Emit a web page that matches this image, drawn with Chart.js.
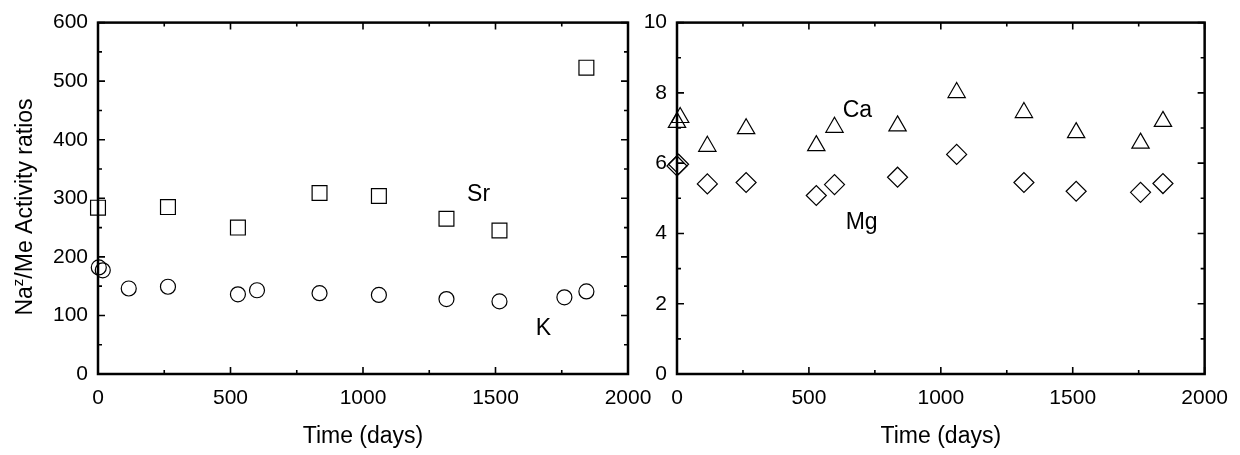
<!DOCTYPE html>
<html>
<head>
<meta charset="utf-8">
<script src="https://cdn.jsdelivr.net/npm/chart.js@4.4.1/dist/chart.umd.min.js"></script>
<style>
  html, body { margin: 0; padding: 0; background: #fff; }
  #wrap { position: relative; width: 1240px; height: 455px; overflow: hidden; }
  #c1 { position: absolute; left: 0; top: 0; }
  #c2 { position: absolute; left: 640px; top: 0; }
</style>
</head>
<body>
<div id="wrap">
  <canvas id="c1" width="680" height="455"></canvas>
  <canvas id="c2" width="600" height="455"></canvas>
</div>
<script>
// Left panel: Na^z/Me ratios for Sr and K
const srDays = [0, 264, 528, 836, 1060, 1315, 1515, 1843];
const srRatio = [284, 285, 250, 309, 304, 265, 245, 523];
const kDays = [3, 18, 116, 264, 528, 600, 836, 1060, 1315, 1515, 1760, 1843];
const kRatio = [182, 177, 146, 149, 136, 143, 138, 135, 128, 124, 131, 141];

// Right panel: Ca and Mg
const caDays = [0, 12, 115, 262, 528, 597, 836, 1060, 1315, 1513, 1757, 1842];
const caRatio = [7.16, 7.30, 6.48, 6.98, 6.50, 7.02, 7.06, 8.01, 7.44, 6.87, 6.57, 7.19];
const mgDays = [0, 6, 115, 262, 528, 597, 836, 1060, 1315, 1513, 1757, 1842];
const mgRatio = [5.92, 5.97, 5.41, 5.45, 5.08, 5.39, 5.60, 6.25, 5.45, 5.20, 5.17, 5.42];

const xTicks = [0, 500, 1000, 1500, 2000];
const leftYTicks = [0, 100, 200, 300, 400, 500, 600];
const rightYTicks = [0, 2, 4, 6, 8, 10];

// series names placed next to the points, in data units
const leftNames = [
  { text: "Sr", x: 1436, y: 307 },
  { text: "K", x: 1681, y: 77 },
];
const rightNames = [
  { text: "Ca", x: 684, y: 7.48 },
  { text: "Mg", x: 700, y: 4.3 },
];

const FONT = '"Liberation Sans", Arial, sans-serif';

function toPoints(xs, ys) {
  return xs.map((x, i) => ({ x: x, y: ys[i] }));
}

function markerSet(label, data, style, radius) {
  return {
    label: label,
    data: data,
    pointStyle: style,
    pointRadius: radius,
    pointHoverRadius: radius,
    borderColor: "#000",
    borderWidth: 1.2,
    backgroundColor: "rgba(0,0,0,0)",
    clip: false,
  };
}

// Box, inward ticks, axis titles and series names
const framePlugin = {
  id: "frame",
  afterDraw(chart, args, opts) {
    const ctx = chart.ctx;
    const a = chart.chartArea;
    const xs = chart.scales.x;
    const ys = chart.scales.y;
    ctx.save();
    ctx.strokeStyle = "#000";

    ctx.lineWidth = 1.6;
    ctx.beginPath();
    for (let v = xs.min; v <= xs.max; v += opts.xMinor) {
      const px = xs.getPixelForValue(v);
      const len = v % opts.xMajor === 0 ? 7 : 4;
      ctx.moveTo(px, a.bottom); ctx.lineTo(px, a.bottom - len);
      ctx.moveTo(px, a.top); ctx.lineTo(px, a.top + len);
    }
    for (let v = ys.min; v <= ys.max; v += opts.yMinor) {
      const py = ys.getPixelForValue(v);
      const len = Math.abs(v % opts.yMajor) < 1e-9 ? 7 : 4;
      ctx.moveTo(a.left, py); ctx.lineTo(a.left + len, py);
      ctx.moveTo(a.right, py); ctx.lineTo(a.right - len, py);
    }
    ctx.stroke();

    ctx.lineWidth = 2.5;
    ctx.strokeRect(a.left, a.top, a.right - a.left, a.bottom - a.top);

    ctx.fillStyle = "#000";
    ctx.textAlign = "center";
    ctx.textBaseline = "middle";
    ctx.font = "23px " + FONT;
    ctx.fillText("Time (days)", (a.left + a.right) / 2, a.bottom + 63);

    opts.names.forEach((n) => {
      ctx.fillText(n.text, xs.getPixelForValue(n.x), ys.getPixelForValue(n.y));
    });

    if (opts.yTitle) {
      const big = "23px " + FONT;
      const small = "15px " + FONT;
      ctx.font = big;
      const w1 = ctx.measureText("Na").width;
      const w3 = ctx.measureText("/Me Activity ratios").width;
      ctx.font = small;
      const w2 = ctx.measureText("z").width;
      const total = w1 + w2 + w3;
      ctx.translate(26, 207);
      ctx.rotate(-Math.PI / 2);
      ctx.textAlign = "left";
      let x0 = -total / 2;
      ctx.font = big;
      ctx.fillText("Na", x0, 0);
      ctx.font = small;
      ctx.fillText("z", x0 + w1, -7);
      ctx.font = big;
      ctx.fillText("/Me Activity ratios", x0 + w1 + w2, 0);
    }
    ctx.restore();
  },
};

function axisOptions(yMin, yMax, yStep, yWidth) {
  return {
    x: {
      type: "linear",
      min: 0,
      max: 2000,
      afterBuildTicks: (s) => { s.ticks = xTicks.map((v) => ({ value: v })); },
      ticks: { color: "#000", font: { family: FONT, size: 21 }, padding: 12, callback: (v) => String(v), maxRotation: 0 },
      grid: { display: false, drawTicks: false },
      border: { display: false },
      afterFit: (s) => { s.height = 81; },
    },
    y: {
      min: yMin,
      max: yMax,
      ticks: { stepSize: yStep, color: "#000", font: { family: FONT, size: 21 }, padding: 10, callback: (v) => String(v) },
      grid: { display: false, drawTicks: false },
      border: { display: false },
      afterFit: (s) => { s.width = yWidth; },
    },
  };
}

function makeChart(id, datasets, scales, padding, frame) {
  return new Chart(document.getElementById(id), {
    type: "scatter",
    data: { datasets: datasets },
    options: {
      responsive: false,
      animation: false,
      layout: { padding: padding },
      plugins: { legend: { display: false }, tooltip: { enabled: false }, frame: frame },
      scales: scales,
    },
    plugins: [framePlugin],
  });
}

const leftScales = axisOptions(0, 600, 100, 98);
leftScales.y.afterBuildTicks = (s) => { s.ticks = leftYTicks.map((v) => ({ value: v })); };
makeChart(
  "c1",
  [
    markerSet("Sr", toPoints(srDays, srRatio), "rect", 10.5),
    markerSet("K", toPoints(kDays, kRatio), "circle", 7.5),
  ],
  leftScales,
  { top: 21, right: 52, left: 0, bottom: 0 },
  { xMinor: 250, xMajor: 500, yMinor: 50, yMajor: 100, names: leftNames, yTitle: true }
);

const rightScales = axisOptions(0, 10, 2, 37);
rightScales.y.afterBuildTicks = (s) => { s.ticks = rightYTicks.map((v) => ({ value: v })); };
makeChart(
  "c2",
  [
    markerSet("Ca", toPoints(caDays, caRatio), "triangle", 10),
    markerSet("Mg", toPoints(mgDays, mgRatio), "rectRot", 10),
  ],
  rightScales,
  { top: 21, right: 32, left: 0, bottom: 0 },
  { xMinor: 250, xMajor: 500, yMinor: 1, yMajor: 2, names: rightNames, yTitle: false }
);
</script>
</body>
</html>
